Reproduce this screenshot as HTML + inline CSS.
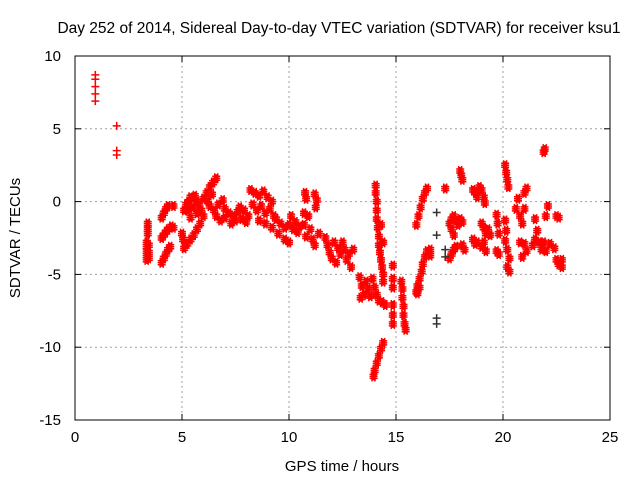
<!DOCTYPE html>
<html><head><meta charset="utf-8"><style>
body{margin:0;background:#fff}
svg{display:block;font-family:"Liberation Sans",sans-serif}
</style></head><body>
<svg id="chart" width="640" height="480">
<text x="339" y="33" font-size="15.5" text-anchor="middle">Day 252 of 2014, Sidereal Day-to-day VTEC variation (SDTVAR) for receiver ksu1</text>
<text x="342" y="471" font-size="15" text-anchor="middle">GPS time / hours</text>
<text transform="translate(20,238) rotate(-90)" font-size="15" text-anchor="middle">SDTVAR / TECUs</text>
<g id="grid"></g>
<g id="ticks"></g>
<g id="marks"></g>
<rect x="75" y="56" width="535" height="364" fill="none" stroke="#000" stroke-width="1"/>
</svg>
<script>
const xTicks=[0,5,10,15,20,25];
const yTicks=[10,5,0,-5,-10,-15];
const times=[0.95,0.95,0.95,0.95,0.95,1.95,1.95,1.95,
3.4,3.4,3.4,3.35,3.35,3.35,3.35,3.35,3.45,3.45,3.45,
4.05,4.15,4.25,4.35,4.45,4.05,4.15,4.25,4.35,4.5,4.6,4.05,4.15,4.25,4.35,4.6,
5.1,5.25,5.4,5.55,5.7,5.85,6.0,5.0,5.05,
5.1,5.2,5.3,5.4,5.5,5.6,5.7,5.8,5.9,5.3,5.5,5.7,5.4,
6.0,6.15,6.3,6.45,6.6,6.2,6.4,
6.3,6.5,6.7,6.9,7.0,6.6,6.8,7.0,
7.2,7.4,7.6,7.8,8.0,7.3,7.5,7.7,7.9,8.1,
8.2,8.4,8.6,8.8,9.0,9.2,8.3,8.5,8.7,8.9,9.1,9.3,
8.6,8.9,9.2,9.5,9.8,10.0,9.4,9.6,9.8,10.0,
10.1,10.3,10.5,10.2,10.4,10.7,10.7,10.8,10.9,11.0,11.1,11.2,10.75,10.8,11.2,11.3,11.25,11.4,
11.7,11.8,11.9,12.0,12.1,12.3,12.4,12.2,12.5,12.6,12.8,12.7,12.9,13.0,
13.3,13.4,13.5,13.6,13.7,13.8,13.9,14.0,14.1,14.2,14.35,14.5,13.35,
14.05,14.05,14.1,14.1,14.1,14.15,14.2,14.2,14.25,14.3,14.35,14.4,14.4,14.3,14.4,
13.95,14.0,14.1,14.2,14.3,14.4,
14.85,14.85,14.85,14.85,14.85,14.85,
15.25,15.3,15.3,15.35,15.35,15.4,15.45,
15.95,16.0,16.1,16.2,16.25,16.35,16.45,16.0,16.1,
15.95,16.05,16.15,16.25,16.35,16.45,
16.6,16.6,17.3,
17.5,17.6,17.7,17.8,17.9,18.0,18.1,17.6,17.7,17.5,17.6,17.7,17.8,18.1,18.2,
18.0,18.05,18.1,
18.6,18.7,18.8,18.9,19.0,19.1,19.15,
19.0,19.1,19.2,19.3,19.4,
18.6,18.7,18.8,19.0,19.1,19.2,
19.7,19.75,19.8,19.7,19.8,
20.1,20.15,20.2,20.25,20.1,20.15,20.1,20.2,20.3,20.2,20.3,
20.6,20.7,20.8,20.9,21.0,21.1,21.0,20.8,21.0,21.1,20.9,
21.5,21.6,21.7,21.8,21.9,22.0,22.1,21.9,21.95,22.0,22.2,22.4,22.5,22.6,22.75,22.75,22.5,22.6,21.4,21.5];
const values=[8.7,8.4,7.9,7.4,6.9,5.2,3.5,3.2,
-1.5,-1.9,-2.2,-2.8,-3.1,-3.4,-3.7,-4.0,-3.0,-3.5,-3.9,
-4.2,-3.9,-3.6,-3.3,-3.1,-2.5,-2.3,-2.1,-1.9,-1.7,-1.8,-1.1,-0.8,-0.5,-0.3,-0.3,
-3.2,-2.9,-2.6,-2.3,-1.9,-1.5,-1.0,-2.2,-2.6,
-0.6,-0.2,0,0.3,0.2,0.4,0,-0.3,-0.6,-0.6,-0.4,-0.8,-1.1,
0.2,0.6,1.0,1.3,1.6,0.0,0.5,
-0.3,-0.6,-0.2,0.1,-0.5,-1.0,-1.3,-1.1,
-0.8,-1.0,-0.7,-1.2,-1.4,-1.5,-1.3,-0.4,-0.6,-1.0,
0.8,0.6,0.4,0.7,0.3,0,-0.2,-0.6,-0.3,-0.8,-0.5,-1.0,
-1.3,-1.5,-1.8,-2.2,-2.6,-2.8,-1.2,-1.5,-1.8,-1.6,
-1.0,-1.4,-1.7,-1.9,-2.1,-0.8,-1.6,-2.4,-1.0,-1.9,-2.6,-3.0,0.6,0.2,0.5,0.1,-0.4,-2.2,
-2.5,-3.0,-3.5,-3.9,-2.8,-3.2,-3.6,-4.2,-2.8,-3.3,-3.6,-4.0,-4.5,-3.3,
-5.2,-5.8,-6.4,-5.5,-6.0,-6.5,-5.3,-5.9,-6.4,-6.8,-6.9,-7.1,-6.6,
1.1,0.6,0.0,-0.6,-1.2,-1.8,-2.4,-3.0,-3.5,-4.0,-4.5,-5.0,-5.5,-1.6,-2.8,
-12.0,-11.6,-11.1,-10.6,-10.1,-9.7,
-4.4,-5.3,-5.9,-7.1,-7.8,-8.4,
-5.5,-6.0,-6.6,-7.2,-7.8,-8.4,-8.8,
-6.2,-5.8,-5.3,-4.8,-4.3,-3.8,-3.4,-6.3,-5.9,
-1.6,-1.0,-0.4,0.2,0.6,0.9,
-3.3,-3.7,0.9,
-1.5,-1.2,-1.0,-1.3,-1.6,-1.2,-1.4,-1.9,-2.3,-3.9,-3.6,-3.3,-3.1,-3.0,-3.3,
2.1,1.8,1.5,
0.8,0.6,0.3,1.0,0.8,0.3,-0.1,
-1.5,-1.8,-2.2,-1.9,-2.3,
-2.6,-2.9,-2.8,-3.1,-2.8,-3.4,
-0.9,-1.5,-2.2,-3.4,-3.6,
2.5,2.0,1.5,1.0,-1.3,-2.0,-2.7,-3.3,-3.9,-4.5,-4.8,
-0.5,0.2,-1.0,-1.5,0.6,0.9,-0.5,-2.8,-2.9,-3.4,-3.8,
-1.2,-2.0,-2.8,-3.3,-2.8,-1.0,-0.3,3.4,3.6,-3.4,-2.9,-3.2,-4.0,-4.3,-4.5,-4.0,-1.0,-1.1,-3.0,-2.6];
const darkTimes=[16.9,16.9,16.9,16.9,17.3,17.3];
const darkValues=[-0.75,-2.3,-8.0,-8.4,-3.3,-3.8];

const X0=75,X1=610,Y0=420,Y1=56;
const sx=t=>X0+(t-0)/(25-0)*(X1-X0);
const sy=v=>Y0-(v+15)/(25)*(Y0-Y1);
const NS='http://www.w3.org/2000/svg';
const grid=document.getElementById('grid'),ticks=document.getElementById('ticks'),marks=document.getElementById('marks');
function mk(tag,attrs,parent){const e=document.createElementNS(NS,tag);for(const k in attrs)e.setAttribute(k,attrs[k]);parent.appendChild(e);return e;}
xTicks.forEach(t=>{
  const x=sx(t);
  if(t>0&&t<25){const g=mk('line',{x1:x,x2:x,y1:Y1,y2:Y0,stroke:'#a0a0a0','stroke-dasharray':'2,3'},grid);
  
  }
  mk('line',{x1:x,x2:x,y1:Y0,y2:Y0-6,stroke:'#000'},ticks);
  mk('line',{x1:x,x2:x,y1:Y1,y2:Y1+6,stroke:'#000'},ticks);
  const l=mk('text',{x:x,y:442,'font-size':15,'text-anchor':'middle'},ticks);
  l.textContent=t;
  
  
});
yTicks.forEach(v=>{
  const y=sy(v);
  if(v>-15&&v<10){const g=mk('line',{x1:X0,x2:X1,y1:y,y2:y,stroke:'#a0a0a0','stroke-dasharray':'2,3'},grid);
  
  }
  mk('line',{x1:X0,x2:X0+6,y1:y,y2:y,stroke:'#000'},ticks);
  mk('line',{x1:X1,x2:X1-6,y1:y,y2:y,stroke:'#000'},ticks);
  const l=mk('text',{x:61,y:y+5,'font-size':15,'text-anchor':'end'},ticks);
  l.textContent=v;
  
  
});
function plus(t,v,color,thick){
  const x=sx(t),y=sy(v);
  let d=`M${x-4} ${y}H${x+4}M${x} ${y-4}V${y+4}`;
  if(thick)d+=`M${x-4} ${y-2}H${x+4}M${x-4} ${y+2}H${x+4}M${x-1.5} ${y-5}V${y+5}M${x+1.5} ${y-5}V${y+5}`;
  const p=mk('path',{d:d,stroke:color,'stroke-width':1.5,fill:'none'},marks);
  
  
}
times.forEach((t,i)=>plus(t,values[i],'#ff0000',i>=8));
darkTimes.forEach((t,i)=>plus(t,darkValues[i],'#333333',false));
</script>
</body></html>
